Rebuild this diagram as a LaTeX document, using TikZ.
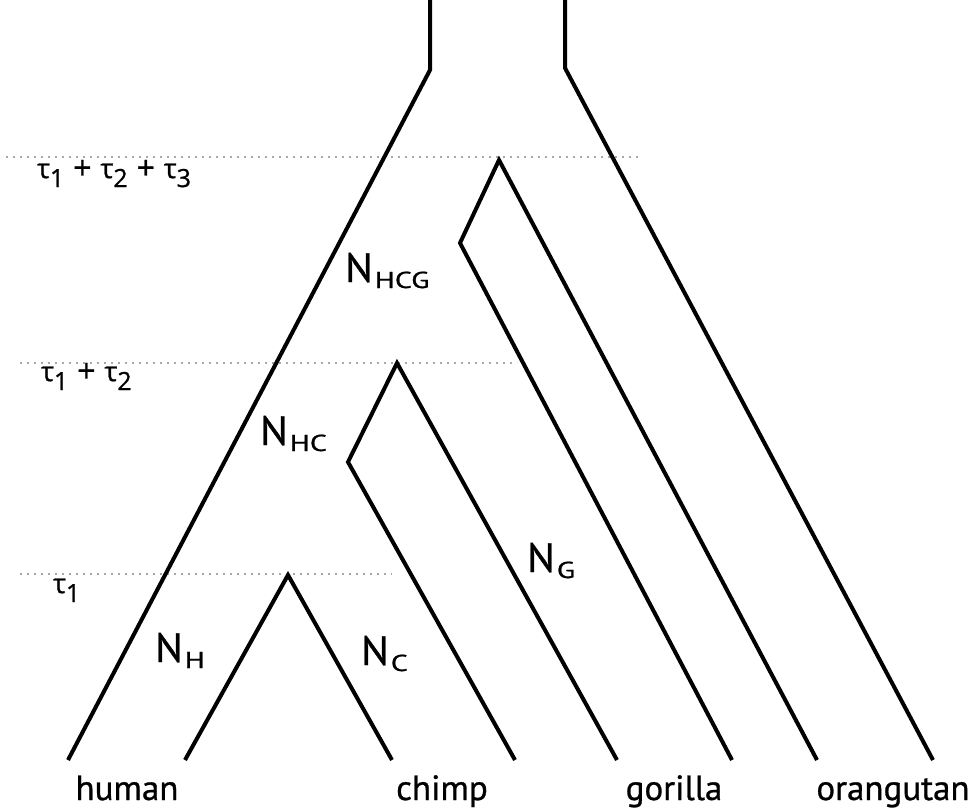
\documentclass[tikz,border=0pt]{standalone}
\usepackage{fontspec}
\setmainfont[FakeBold=1.2]{PT Sans}
\newfontfamily\gkfont[FakeBold=1]{Open Sans}
\newcommand\Nlab[1]{\addfontfeature{FakeBold=0.8}N\hspace{2pt}\raisebox{-6pt}{\fontsize{23}{23}\selectfont\scalebox{1.3}[1]{#1}}}
\newcommand\tsub[1]{\raisebox{-9pt}{\fontsize{25}{25}\selectfont #1}}
\newcommand\tplus{\hspace{9pt}\raisebox{-1pt}{\fontsize{32}{32}\selectfont +}\hspace{9pt}}
\begin{document}
\begin{tikzpicture}[x=1pt,y=-1pt,
  branch/.style={line width=4pt,line join=miter,line cap=butt,black},
  epoch/.style={line width=1.6pt,gray!70,dash pattern=on 2pt off 5pt},
  nlabel/.style={anchor=base west,inner sep=0pt,font=\fontsize{41}{41}\selectfont},
  species/.style={anchor=base,inner sep=0pt,font=\fontsize{35}{35}\selectfont\addfontfeature{FakeBold=0.8}},
  taulabel/.style={anchor=base west,inner sep=0pt,font=\gkfont\fontsize{27}{27}\selectfont}]
\useasboundingbox (0,0) rectangle (979,809);
% coordinates
\coordinate (topL) at (430,-3);
\coordinate (neckL) at (430,70);
\coordinate (topR) at (565,-3);
\coordinate (neckR) at (565,68);
\coordinate (humanO) at (68,760);
\coordinate (orangO) at (933,760);
\coordinate (humanI) at (185,760);
\coordinate (hcApex) at (288,575);
\coordinate (chimpI) at (392,760);
\coordinate (chimpO) at (515,760);
\coordinate (hcElbow) at (348,462);
\coordinate (hcgApex) at (397,363);
\coordinate (gorillaI) at (617,760);
\coordinate (gorillaO) at (732,760);
\coordinate (hcgElbow) at (460,243);
\coordinate (rootApex) at (499,160);
\coordinate (orangI) at (817,760);
% epoch lines
\coordinate (e3a) at (6,157);  \coordinate (e3b) at (642,157);
\coordinate (e2a) at (20,363); \coordinate (e2b) at (517,363);
\coordinate (e1a) at (20,574); \coordinate (e1b) at (392,574);
\draw[epoch] (e3a) -- (e3b);
\draw[epoch] (e2a) -- (e2b);
\draw[epoch] (e1a) -- (e1b);
% branches
\draw[branch] (humanO) -- (neckL) -- (topL);
\draw[branch] (topR) -- (neckR) -- (orangO);
\draw[branch] (humanI) -- (hcApex) -- (chimpI);
\draw[branch] (chimpO) -- (hcElbow) -- (hcgApex) -- (gorillaI);
\draw[branch] (gorillaO) -- (hcgElbow) -- (rootApex) -- (orangI);
% tau labels
\node[taulabel] (t3) at (37,178) {τ\tsub{1}\tplus τ\tsub{2}\tplus τ\tsub{3}};
\node[taulabel] (t2) at (41,381) {τ\tsub{1}\tplus τ\tsub{2}};
\node[taulabel] (t1) at (53,593) {τ\tsub{1}};
% population size labels
\node[nlabel] (NH) at (155,662) {\Nlab{H}};
\node[nlabel] (NC) at (361,665) {\Nlab{C}};
\node[nlabel] (NHC) at (260,445) {\Nlab{HC}};
\node[nlabel] (NHCG) at (345,282) {\Nlab{HCG}};
\node[nlabel] (NG) at (527,572) {\Nlab{G}};
% species labels
\node[species] (human) at (127,800) {human};
\node[species] (chimp) at (442,800) {chimp};
\node[species] (gorilla) at (674,800) {gorilla};
\node[species] (orangutan) at (893,800) {orangutan};
\end{tikzpicture}
\end{document}
